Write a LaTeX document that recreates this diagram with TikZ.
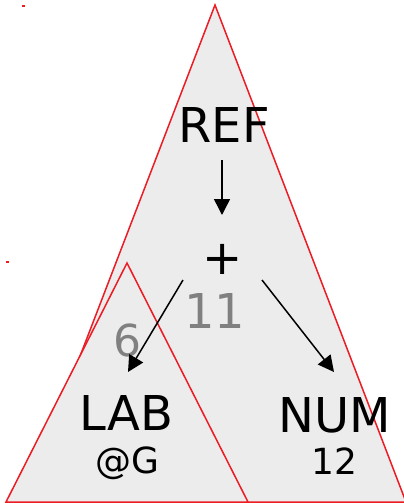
\documentclass[tikz,border=0pt]{standalone}
\usepackage{fontspec}
\setmainfont{DejaVu Sans}
\usetikzlibrary{arrows.meta}
\definecolor{edgered}{RGB}{237,28,36}
\definecolor{treefill}{RGB}{236,236,236}
\definecolor{idgray}{RGB}{128,128,128}
\tikzset{
  tree/.style={draw=edgered, fill=treefill, line width=1.5pt, line join=miter},
  big/.style={font=\fontsize{48}{56}\selectfont, inner sep=0pt, anchor=base},
  small/.style={font=\fontsize{36}{42}\selectfont, inner sep=0pt, anchor=base},
  ident/.style={text=idgray},
  arr/.style={line width=1.5pt, -{Triangle[length=16pt,width=16pt]}},
}
\begin{document}
\begin{tikzpicture}[x=1pt, y=-1pt]
  \useasboundingbox (0,0) rectangle (404,503);
  \begin{scope}
    \clip (0,0) rectangle (404,503);
    % outer subtree
    \draw[tree] (215,5) -- (406,502) -- (24,502) -- cycle;
    \fill[edgered] (22,5) rectangle (25,7);
    % inner subtree
    \draw[tree] (127,263) -- (248,502) -- (6,502) -- cycle;
    \fill[edgered] (6,261) rectangle (9,263);
  \end{scope}

  % labels
  \node[big] (ref) at (224,142) {REF};
  \node[big, anchor=center] (plus) at (223,259) {+};
  \node[big, ident] (id11) at (215,328) {11};
  \node[font=\fontsize{44}{50}\selectfont, inner sep=0pt, anchor=base, ident] (id6) at (127,356) {6};
  \node[big] (lab) at (126.5,430) {LAB};
  \node[small] (labat) at (127,473) {@G};
  \node[big] (num) at (335,432) {NUM};
  \node[small] (numval) at (334.5,474) {12};

  % edges
  \draw[arr] ([shift={(-2,18)}]ref.base) -- ([shift={(-1,-44)}]plus.center);
  \draw[arr] ([shift={(-40,21)}]plus.center) -- ([shift={(1.5,-58)}]lab.base);
  \draw[arr] ([shift={(39,21)}]plus.center) -- ([shift={(-1,-60)}]num.base);
\end{tikzpicture}
\end{document}
